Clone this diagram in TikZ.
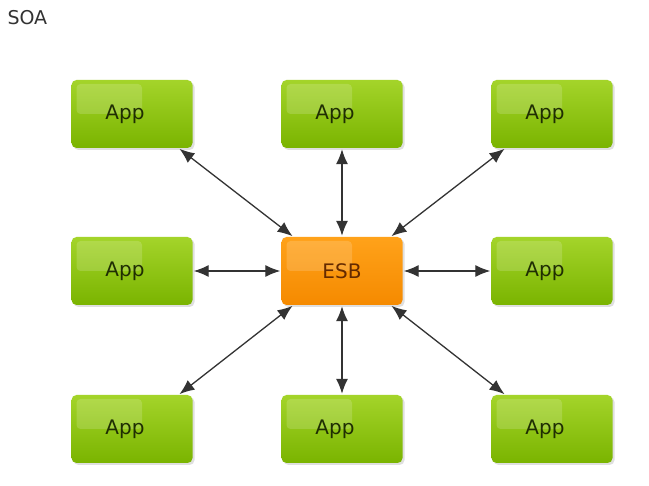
\documentclass[tikz,border=0pt]{standalone}
\usepackage{fontspec}
\setmainfont{DejaVu Sans}
\usetikzlibrary{arrows.meta,shadows}
\definecolor{appTop}{HTML}{A4D42A}
\definecolor{appBot}{HTML}{7AB400}
\definecolor{appTxt}{HTML}{1F2E03}
\definecolor{esbTop}{HTML}{FFA21A}
\definecolor{esbBot}{HTML}{F58A00}
\definecolor{esbTxt}{HTML}{652A00}
\tikzset{
  box/.style={rounded corners=5pt, minimum width=121pt, minimum height=68pt,
    inner sep=0pt, font=\fontsize{20}{23}\selectfont,
    drop shadow={shadow xshift=2pt, shadow yshift=-2pt, opacity=0.25},
    path picture={\fill[white, opacity=0.16, rounded corners=4pt]
      ([shift={(5pt,-4pt)}]path picture bounding box.north west) rectangle
      ([shift={(10pt,0pt)}]path picture bounding box.center);}},
  appbox/.style={box, top color=appTop, bottom color=appBot, text=appTxt},
  esbbox/.style={box, top color=esbTop, bottom color=esbBot, text=esbTxt},
  link/.style={draw=black!80, line width=1.3pt, {Latex[length=15pt,width=12pt]}-{Latex[length=15pt,width=12pt]}, shorten <=1pt, shorten >=1pt}
}
\newcommand{\apptext}{App\kern14pt\relax}
\begin{document}
\begin{tikzpicture}[x=1pt,y=-1pt]
\useasboundingbox[fill=white] (0,0) rectangle (649,486);
\node[anchor=west, font=\fontsize{19}{22}\selectfont, text=black!80] (title) at (4,18) {SOA};
\node[appbox] (a1) at (132,114) {\apptext};
\node[appbox] (a2) at (342,114) {\apptext};
\node[appbox] (a3) at (552,114) {\apptext};
\node[appbox] (a4) at (132,271) {\apptext};
\node[esbbox] (esb) at (342,271) {ESB};
\node[appbox] (a6) at (552,271) {\apptext};
\node[appbox] (a7) at (132,429) {\apptext};
\node[appbox] (a8) at (342,429) {\apptext};
\node[appbox] (a9) at (552,429) {\apptext};
\draw[link] ([xshift=-14pt]a1.south east) -- ([xshift=12pt]esb.north west);
\draw[link] (a2) -- (esb);
\draw[link] ([xshift=14pt]a3.south west) -- ([xshift=-12pt]esb.north east);
\draw[link] (a4) -- (esb);
\draw[link] (a6) -- (esb);
\draw[link] ([xshift=-14pt]a7.north east) -- ([xshift=12pt]esb.south west);
\draw[link] (a8) -- (esb);
\draw[link] ([xshift=14pt]a9.north west) -- ([xshift=-12pt]esb.south east);
\end{tikzpicture}
\end{document}
